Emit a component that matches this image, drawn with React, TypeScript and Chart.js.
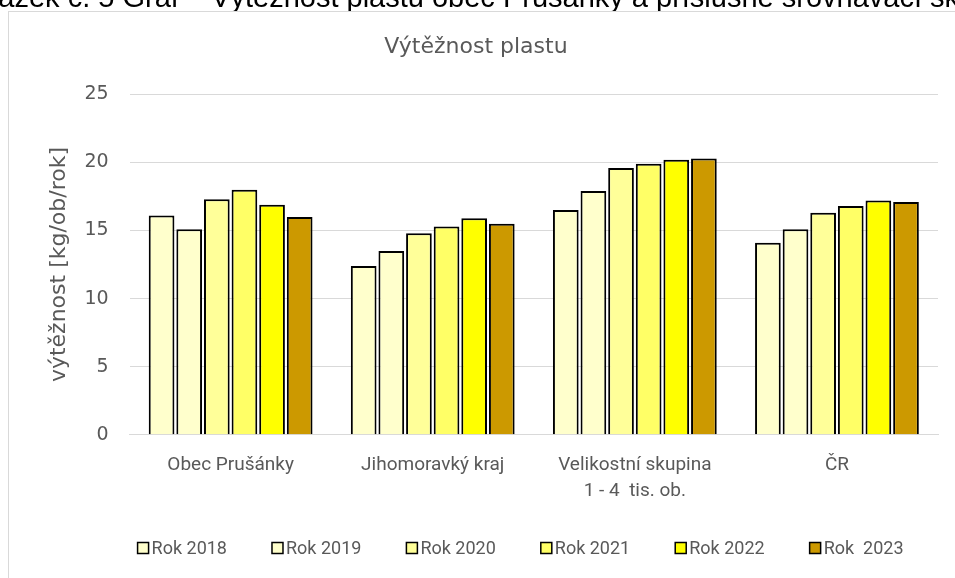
import React, { useEffect, useRef } from "react";
import { Chart, registerables } from "chart.js";

Chart.register(...registerables);

const categories: (string | string[])[] = [
  "Obec Prušánky",
  "Jihomoravký kraj",
  ["Velikostní skupina", "1 - 4  tis. ob."],
  "ČR",
];
const seriesLabels = ["Rok 2018", "Rok 2019", "Rok 2020", "Rok 2021", "Rok 2022", "Rok  2023"];
const rok2018 = [16.1, 12.4, 16.5, 14.1];
const rok2019 = [15.1, 13.5, 17.9, 15.1];
const rok2020 = [17.3, 14.8, 19.6, 16.3];
const rok2021 = [18.0, 15.3, 19.9, 16.8];
const rok2022 = [16.9, 15.9, 20.2, 17.2];
const rok2023 = [16.0, 15.5, 20.3, 17.1];
const seriesValues = [rok2018, rok2019, rok2020, rok2021, rok2022, rok2023];
const seriesColors = ["#FFFFCC", "#FFFFCC", "#FFFF99", "#FFFF66", "#FFFF00", "#CC9900"];
const yTicks = [0, 5, 10, 15, 20, 25];

const chartTitle = "Výtěžnost plastu";
const yTitle = "výtěžnost [kg/ob/rok]";
const caption = "Obrázek č. 5 Graf – Výtěžnost plastu obec Prušánky a příslušné srovnávací skupiny";

const WIDE = "'DejaVu Sans', sans-serif";
const NARROW = "Roboto, 'Liberation Sans', sans-serif";
const GRAY = "#595959";

const LEGEND_FONT_SIZE = 18;
const LEGEND_BOX = 11;
const LEGEND_BOX_GAP = 3;
const LEGEND_ITEM_GAP = 45;
const LEGEND_INSET = 8;

const customLegend = {
  id: "customLegend",
  afterDraw(chart: any) {
    const ctx = chart.ctx;
    const area = chart.chartArea;
    const y = chart.height - 30;
    ctx.save();
    ctx.font = `${LEGEND_FONT_SIZE}px ${NARROW}`;
    ctx.textBaseline = "middle";
    const items = chart.data.datasets.map((ds: any) => ({
      label: ds.label as string,
      color: ds.backgroundColor as string,
      w: ctx.measureText(ds.label).width,
    }));
    let x = area.left + LEGEND_INSET;
    for (const it of items) {
      ctx.fillStyle = it.color;
      ctx.fillRect(x, y - LEGEND_BOX / 2, LEGEND_BOX, LEGEND_BOX);
      ctx.strokeStyle = "#000";
      ctx.lineWidth = 1.5;
      ctx.strokeRect(x, y - LEGEND_BOX / 2, LEGEND_BOX, LEGEND_BOX);
      ctx.fillStyle = GRAY;
      ctx.fillText(it.label, x + LEGEND_BOX + LEGEND_BOX_GAP, y + 1);
      x += LEGEND_BOX + LEGEND_BOX_GAP + it.w + LEGEND_ITEM_GAP;
    }
    ctx.restore();
  },
};

export default function App() {
  const ref = useRef<HTMLCanvasElement | null>(null);

  useEffect(() => {
    if (!ref.current) return;
    const chart = new Chart(ref.current, {
      type: "bar",
      data: {
        labels: categories,
        datasets: seriesValues.map((vals, i) => ({
          label: seriesLabels[i],
          data: vals,
          backgroundColor: seriesColors[i],
          borderColor: "#000000",
          borderWidth: 2,
          categoryPercentage: 0.82,
          barPercentage: 0.93,
        })),
      },
      plugins: [customLegend],
      options: {
        animation: false,
        responsive: false,
        maintainAspectRatio: false,
        layout: { padding: { top: 22, left: 5, right: 17, bottom: 56 } },
        plugins: {
          title: {
            display: true,
            text: chartTitle,
            color: GRAY,
            font: { family: WIDE, size: 22, weight: "normal" },
            padding: { top: 0, bottom: 34 },
          },
          legend: { display: false },
          tooltip: { enabled: false },
        },
        scales: {
          x: {
            grid: { display: false, drawTicks: false },
            border: { display: true, color: "#d9d9d9", width: 1 },
            ticks: {
              color: GRAY,
              font: { family: NARROW, size: 19, lineHeight: 1.35 },
              padding: 18,
              maxRotation: 0,
              autoSkip: false,
            },
          },
          y: {
            min: 0,
            max: 25,
            afterBuildTicks: (axis: any) => {
              axis.ticks = yTicks.map((v) => ({ value: v }));
            },
            grid: {
              color: "#d9d9d9",
              lineWidth: 1,
              drawTicks: true,
              tickLength: 9,
              tickColor: "rgba(0,0,0,0)",
            },
            border: { display: false },
            ticks: {
              color: GRAY,
              font: { family: WIDE, size: 19 },
              padding: 12,
            },
            title: {
              display: true,
              text: yTitle,
              color: GRAY,
              font: { family: WIDE, size: 22 },
              padding: { top: 32, bottom: 0 },
            },
          },
        },
      },
    });
    return () => chart.destroy();
  }, []);

  return (
    <div>
      <div
        style={{
          position: "fixed",
          left: -50,
          top: -17,
          whiteSpace: "nowrap",
          fontFamily: "'Liberation Sans', Arial, sans-serif",
          fontSize: 29,
          color: "#000",
          lineHeight: "29px",
        }}
      >
        {caption}
      </div>
      <div
        style={{
          position: "fixed",
          left: 8,
          top: 11,
          width: 1000,
          height: 620,
          border: "1px solid #d9d9d9",
          background: "#fff",
        }}
      />
      <canvas
        ref={ref}
        width={946}
        height={566}
        style={{ position: "fixed", left: 9, top: 12, width: 946, height: 566 }}
      />
    </div>
  );
}
